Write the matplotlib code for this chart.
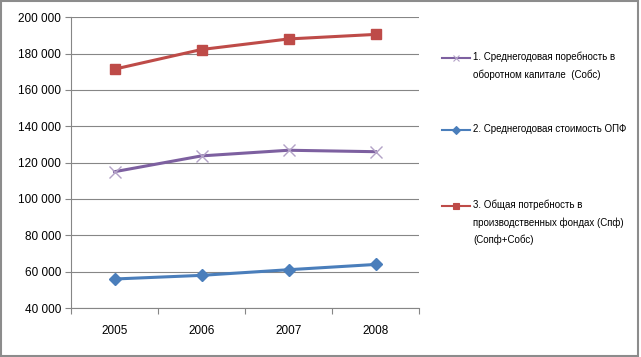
import matplotlib
matplotlib.use("Agg")
import matplotlib.pyplot as plt
from matplotlib.lines import Line2D
from matplotlib.patches import Rectangle
from matplotlib.ticker import FuncFormatter

years = ["2005", "2006", "2007", "2008"]
sobs = [115000, 123700, 126800, 126000]
sopf = [56000, 58000, 61100, 64000]
spf = [171400, 182200, 188000, 190500]

labels = [
    "1. Среднегодовая поребность в\nоборотном капитале  (Собс)",
    "2. Среднегодовая стоимость ОПФ",
    "3. Общая потребность в\nпроизводственных фондах (Спф)\n(Сопф+Собс)",
]
y_ticks = [40000, 60000, 80000, 100000, 120000, 140000, 160000, 180000, 200000]

purple = "#7D60A0"
blue = "#4A7EBB"
red = "#BE4B48"
grid_c = "#868686"

plt.rcParams["font.family"] = ["Liberation Sans", "DejaVu Sans"]

fig = plt.figure(figsize=(6.41, 3.57), dpi=100)
ax = fig.add_axes([0.1108, 0.137, 0.5429, 0.815])

x = [i + 0.5 for i in range(len(years))]
ax.plot(x, spf, color=red, lw=2.2, marker="s", ms=7.5, zorder=3)
ax.plot(x, sobs, color=purple, lw=2.2, marker="x", ms=8, mew=1.0,
        mec="#B3A2C7", zorder=3)
ax.plot(x, sopf, color=blue, lw=2.2, marker="D", ms=6, zorder=3)

ax.set_xlim(0, 4)
ax.set_ylim(40000, 200000)
ax.set_yticks(y_ticks)
ax.yaxis.set_major_formatter(FuncFormatter(lambda v, p: f"{int(v):,}".replace(",", " ")))
ax.set_xticks([0, 1, 2, 3, 4])
ax.set_xticklabels([])
ax.set_xticks(x, minor=True)
ax.set_xticklabels(years, minor=True)
ax.tick_params(axis="x", which="minor", length=0, pad=12, labelsize=8.5)
ax.tick_params(axis="x", which="major", length=4, color=grid_c)
ax.tick_params(axis="y", length=4, color=grid_c, labelsize=8.5, pad=3)
ax.grid(axis="y", color=grid_c, lw=0.8)
ax.set_axisbelow(True)
for s in ["top", "right"]:
    ax.spines[s].set_visible(False)
for s in ["left", "bottom"]:
    ax.spines[s].set_color(grid_c)
    ax.spines[s].set_linewidth(0.8)

# legend drawn on the figure
W, H = 641, 357
entries = [
    (purple, "x", 58, "#B3A2C7"),
    (blue, "D", 130, blue),
    (red, "s", 206, red),
]
for (c, m, yy, mc), lab in zip(entries, labels):
    fy = 1 - yy / H
    fig.add_artist(Line2D([442 / W, 470 / W], [fy, fy], color=c, lw=1.5))
    fig.add_artist(Line2D([456 / W], [fy], color=c, marker=m, ms=4,
                          mec=mc, mfc=mc, mew=0.8))
    fig.text(473 / W, fy + 6.5 / H, lab, fontsize=7, va="top", ha="left",
             linespacing=1.85)

fig.add_artist(Rectangle((0.002, 0.003), 0.994, 0.993, transform=fig.transFigure,
                         fill=False, edgecolor="#8C8C8C", lw=1.5))

fig.savefig("out.png", dpi=100)
